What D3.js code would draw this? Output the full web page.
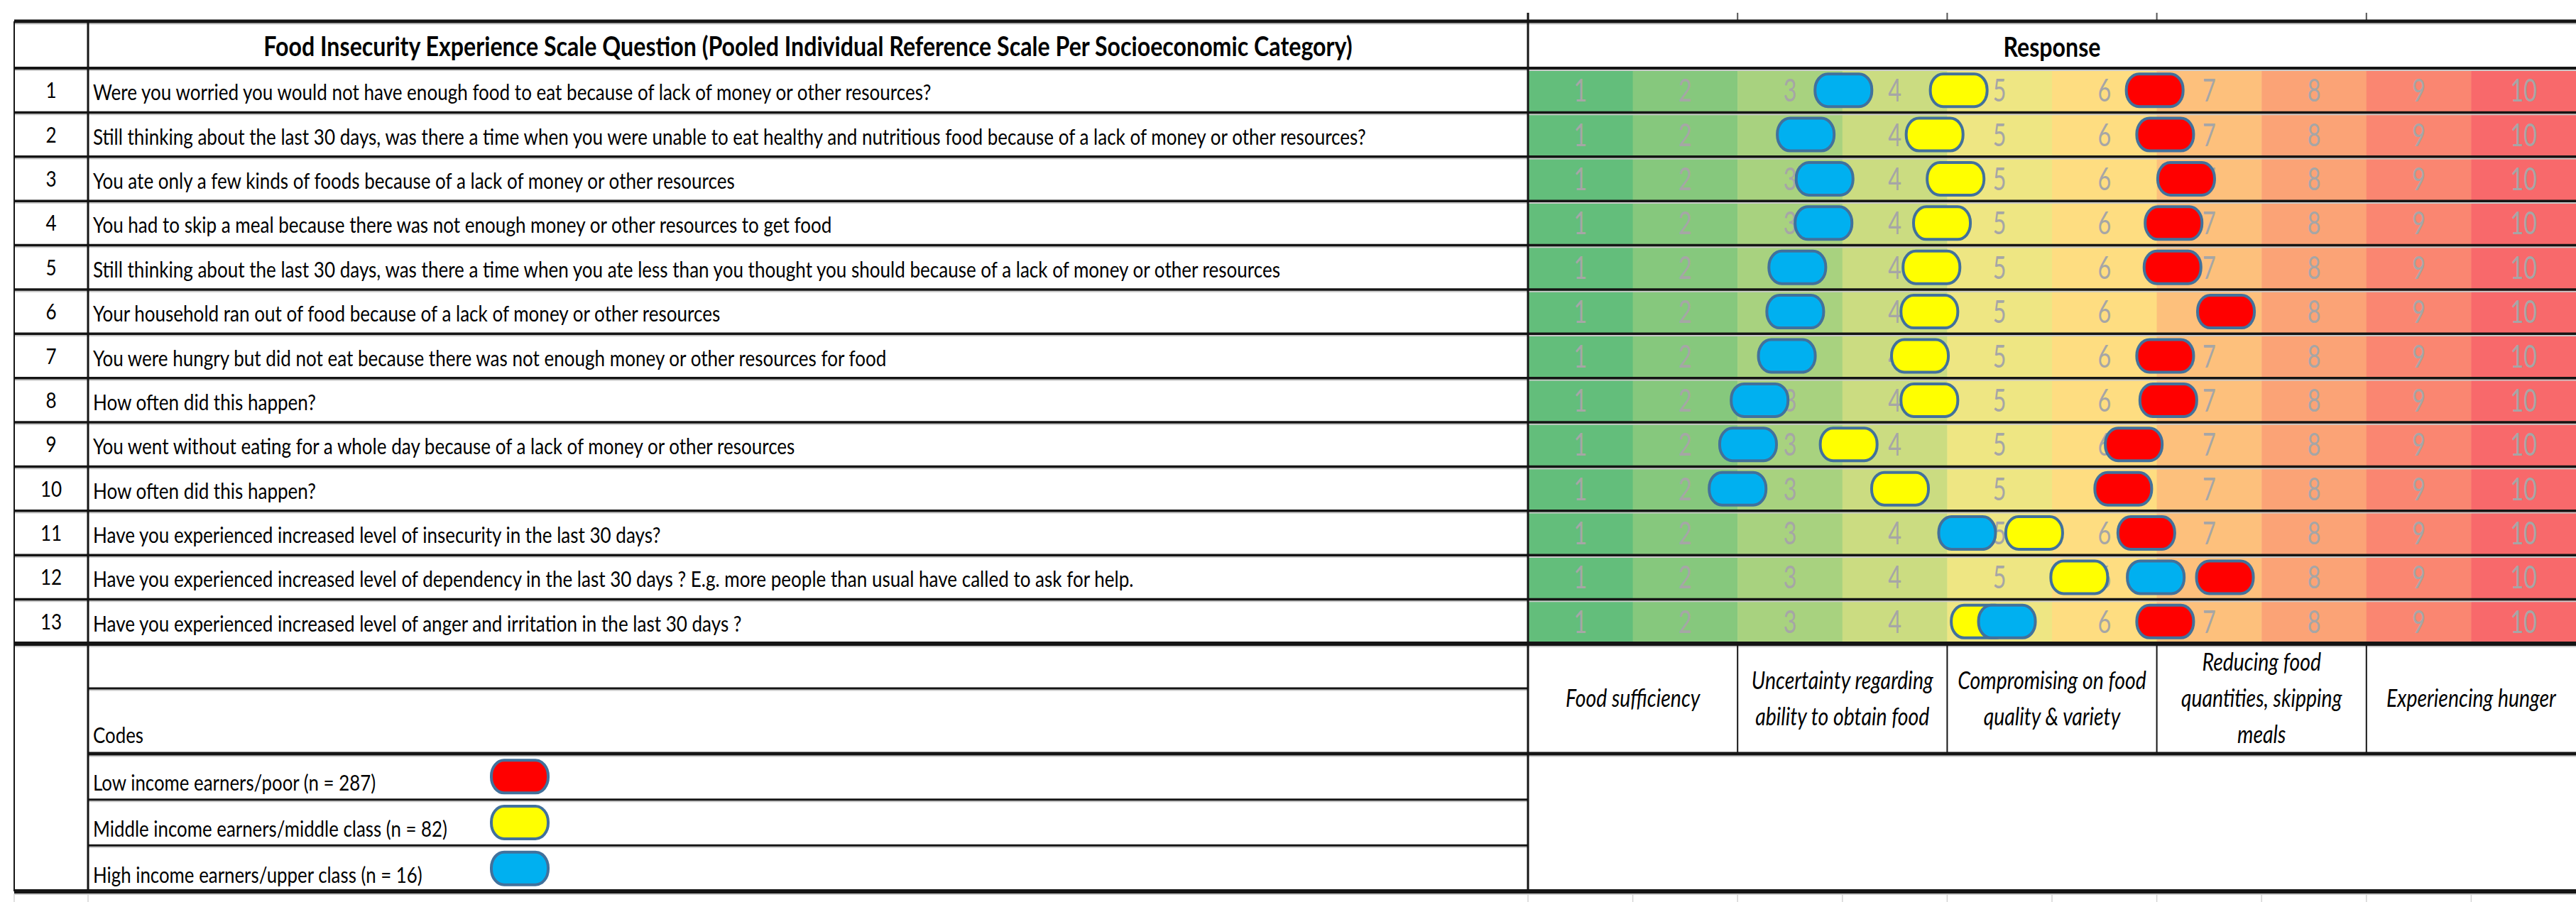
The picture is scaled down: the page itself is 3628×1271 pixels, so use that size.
<!DOCTYPE html>
<html><head><meta charset="utf-8">
<script src="https://cdn.jsdelivr.net/npm/d3@7"></script>
<style>html,body{margin:0;padding:0;background:#fff;} svg{display:block}</style>
</head><body>
<svg id="chart" width="3628" height="1271"></svg>
<script>
// ---------------- DATA ----------------
const titleText = "Food Insecurity Experience Scale Question (Pooled Individual Reference Scale Per Socioeconomic Category)";
const responseTitle = "Response";
const questionNumbers = [1,2,3,4,5,6,7,8,9,10,11,12,13];
const questions = [
  "Were you worried you would not have enough food to eat because of lack of money or other resources?",
  "Still thinking about the last 30 days, was there a time when you were unable to eat healthy and nutritious food because of a lack of money or other resources?",
  "You ate only a few kinds of foods because of a lack of money or other resources",
  "You had to skip a meal because there was not enough money or other resources to get food",
  "Still thinking about the last 30 days, was there a time when you ate less than you thought you should because of a lack of money or other resources",
  "Your household ran out of food because of a lack of money or other resources",
  "You were hungry but did not eat because there was not enough money or other resources for food",
  "How often did this happen?",
  "You went without eating for a whole day because of a lack of money or other resources",
  "How often did this happen?",
  "Have you experienced increased level of insecurity in the last 30 days?",
  "Have you experienced increased level of dependency in the last 30 days ? E.g. more people than usual have called to ask for help.",
  "Have you experienced increased level of anger and irritation in the last 30 days ?"
];
const responseLevels = [1,2,3,4,5,6,7,8,9,10];
const responseColors = ["#63BE7B","#86C87D","#A8D27F","#CBDC81","#EEE683","#FEDD81","#FDC07C","#FBA376","#FA8671","#F8696B"];
// pooled scores per socioeconomic category
const lowIncome    = [6.48,6.58,6.78,6.66,6.65,7.16,6.58,6.61,6.28,6.18,6.40,7.15,6.58];
const middleIncome = [4.61,4.38,4.58,4.45,4.35,4.33,4.24,4.33,3.56,4.05,5.33,5.76,4.81];
const highIncome   = [3.51,3.15,3.33,3.32,3.07,3.05,2.97,2.71,2.60,2.50,4.69,6.49,5.07];
const groupLabels = ["Low income earners/poor (n = 287)","Middle income earners/middle class (n = 82)","High income earners/upper class (n = 16)"];
const groupColors = ["#FF0000","#FFFF00","#00B0F0"];
const codesLabel = "Codes";
const stageLabels = [["Food sufficiency"],["Uncertainty regarding","ability to obtain food"],["Compromising on food","quality & variety"],["Reducing food","quantities, skipping","meals"],["Experiencing hunger"]];
const stageRanges = [[1,2],[3,4],[5,6],[7,8],[9,10]];

// ---------------- LAYOUT ----------------
const W = 3628, H = 1271;
const L = {left:20, numRight:124, qRight:2152, right:3628, top:30, headBottom:96, rowsBottom:907,
           blankBottom:970, codesBottom:1062, bottom:1256};
const FONT = "Lato, 'Noto Sans', sans-serif";
const LINE = "#151515";

const svg = d3.select("#chart");
svg.append("rect").attr("width",W).attr("height",H).attr("fill","#fff");

const x = d3.scaleLinear().domain([0.5,10.5]).range([L.qRight, L.right]);
const y = d3.scaleBand().domain(questionNumbers).range([L.headBottom, L.rowsBottom]);
const yLeg = d3.scaleBand().domain(d3.range(groupLabels.length)).range([L.codesBottom, L.bottom]);

function measure(str, size, weight, style){
  const t = svg.append("text").attr("font-family",FONT).attr("font-size",size)
    .attr("font-weight",weight||400).attr("font-style",style||"normal").text(str);
  const w = t.node().getComputedTextLength(); t.remove(); return w;
}
function sText(g, str, px, py, size, sx, anchor, opts){
  opts = opts||{};
  return g.append("text").attr("transform",`translate(${px},${py}) scale(${sx},1)`)
    .attr("font-family",FONT).attr("font-size",size).attr("font-weight",opts.weight||400)
    .attr("font-style",opts.style||"normal").attr("fill",opts.fill||"#000")
    .attr("text-anchor",anchor).text(str);
}

const sxQ = 989 / measure(questions[8], 30);
const sxTitle = 1534 / measure(titleText, 39, 700);
const sxDigit = 37.5 / measure("10", 44);
const sxStage = 256 / measure(stageLabels[1][0], 34, 400, "italic");
const sxLeg = 499 / measure(groupLabels[1], 30);

// ---------------- COLOURED RESPONSE CELLS ----------------
const cells = svg.append("g");
questionNumbers.forEach(q => {
  responseLevels.forEach((v,i) => {
    cells.append("rect").attr("x",x(v-0.5)).attr("y",y(q)).attr("width",x(v+0.5)-x(v-0.5)+0.5)
      .attr("height",y.bandwidth()).attr("fill",responseColors[i]);
  });
});
const digits = svg.append("g");
questionNumbers.forEach(q => {
  responseLevels.forEach(v => {
    sText(digits, String(v), x(v), y(q)+y.bandwidth()/2+16, 44, sxDigit, "middle", {fill:"#A6A6A6"});
  });
});

// ---------------- GRID LINES ----------------
const grid = svg.append("g");
function hline(yy, x1, x2, w){
  grid.append("line").attr("x1",x1).attr("x2",x2).attr("y1",yy+w/2+1).attr("y2",yy+w/2+1)
    .attr("stroke","#C9C9C9").attr("stroke-width",2);
  grid.append("line").attr("x1",x1).attr("x2",x2).attr("y1",yy).attr("y2",yy)
    .attr("stroke",LINE).attr("stroke-width",w);
}
function vline(xx, y1, y2, w, col){
  grid.append("line").attr("x1",xx).attr("x2",xx).attr("y1",y1).attr("y2",y2)
    .attr("stroke",col||LINE).attr("stroke-width",w);
}
// faint spreadsheet stubs
[L.left, L.numRight].concat(responseLevels.map(v=>x(v-0.5))).forEach(xx=>vline(xx, L.bottom+3, H, 1.5, "#D4D4D4"));
stageRanges.forEach(r => vline(x(r[0]-0.5), 18, L.top, 2, "#555"));

hline(L.top, L.left, L.right, 5);
hline(L.headBottom, L.left, L.right, 4);
questionNumbers.slice(0,-1).forEach(q => hline(y(q)+y.bandwidth(), L.left, L.right, 3.5));
hline(L.rowsBottom, L.left, L.right, 6);
hline(L.blankBottom, L.numRight, L.qRight, 3);
hline(L.codesBottom, L.numRight, L.right, 5);
d3.range(1, groupLabels.length).forEach(i => hline(yLeg(i), L.numRight, L.qRight, 3));
hline(L.bottom, L.left, L.right, 6);

vline(L.left, L.top, L.bottom, 2);
vline(L.numRight, L.top, L.bottom, 3);
vline(L.qRight, 18, L.bottom, 3);
stageRanges.slice(1).forEach(r => vline(x(r[0]-0.5), L.rowsBottom, L.codesBottom, 2));

// ---------------- TEXT ----------------
const txt = svg.append("g");
sText(txt, titleText, (L.numRight+L.qRight)/2, 79, 39, sxTitle, "middle", {weight:700});
sText(txt, responseTitle, (L.qRight+L.right)/2, 80, 39, sxTitle, "middle", {weight:700});
questionNumbers.forEach((q,i) => {
  const cy = y(q)+y.bandwidth()/2;
  sText(txt, String(q), (L.left+L.numRight)/2, cy+11, 30, sxQ, "middle");
  sText(txt, questions[i], L.numRight+7, cy+14, 30, sxQ, "start");
});
stageLabels.forEach((lines,i) => {
  const cx = (x(stageRanges[i][0]-0.5)+x(stageRanges[i][1]+0.5))/2;
  lines.forEach((ln,j) => {
    sText(txt, ln, cx, 996 + (j-(lines.length-1)/2)*51, 34, sxStage, "middle", {style:"italic"});
  });
});
sText(txt, codesLabel, L.numRight+7, 1047, 30, sxLeg, "start");
groupLabels.forEach((lab,i) => {
  sText(txt, lab, L.numRight+7, yLeg(i)+yLeg.bandwidth()/2+20, 30, sxLeg, "start");
});

// ---------------- BUBBLES ----------------
const BW = 80, BH = 46;
function bubble(g, cx, cy, fill){
  g.append("rect").attr("x",cx-BW/2).attr("y",cy-BH/2).attr("width",BW).attr("height",BH)
    .attr("rx",18).attr("ry",22).attr("fill",fill).attr("stroke","#41719C").attr("stroke-width",4);
}
const marks = svg.append("g");
const series = [{vals:middleIncome, col:groupColors[1]},{vals:highIncome, col:groupColors[2]},{vals:lowIncome, col:groupColors[0]}];
series.forEach(s => {
  s.vals.forEach((v,i) => bubble(marks, x(v), y(questionNumbers[i])+y.bandwidth()/2, s.col));
});
// legend swatches
groupColors.forEach((c,i) => bubble(marks, 732, yLeg(i)+yLeg.bandwidth()/2, c));
</script>
</body></html>
